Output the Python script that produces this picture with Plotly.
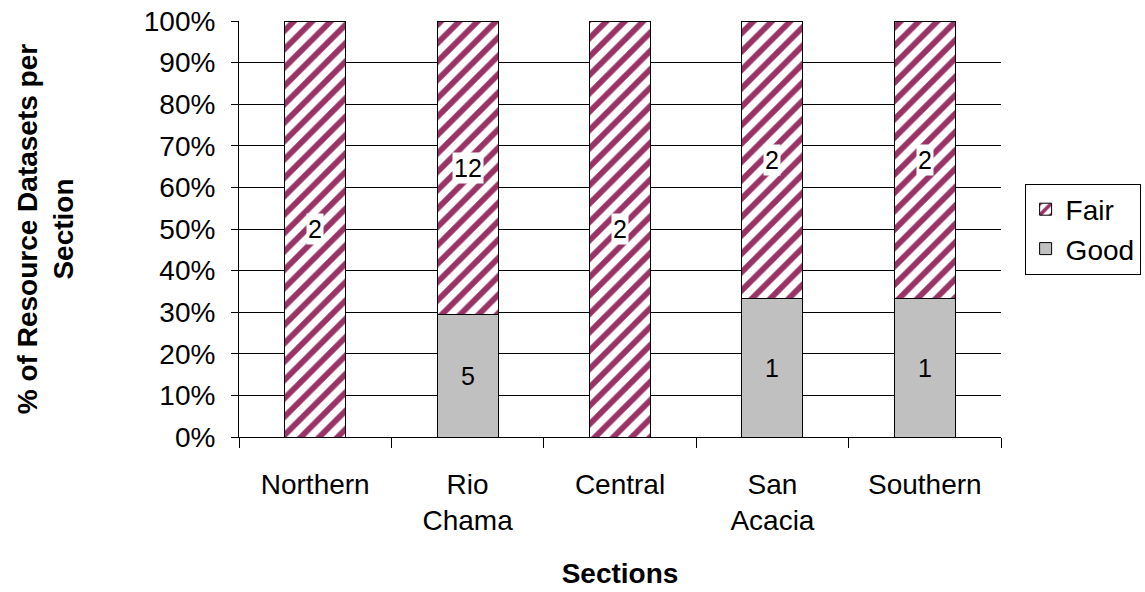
import plotly.graph_objects as go

sections = ["Northern", "Rio<br>Chama", "Central", "San<br>Acacia", "Southern"]
good_counts = [0, 5, 0, 1, 1]
fair_counts = [2, 12, 2, 2, 2]

totals = [g + f for g, f in zip(good_counts, fair_counts)]
good_pct = [100.0 * g / t for g, t in zip(good_counts, totals)]
fair_pct = [100.0 * f / t for f, t in zip(fair_counts, totals)]

FONT = "Liberation Sans, Arial, sans-serif"

fig = go.Figure()
fig.add_trace(go.Bar(
    x=sections, y=good_pct, name="Good", legendrank=2,
    marker=dict(color="#c0c0c0", line=dict(color="black", width=1)),
    hoverinfo="skip",
))
fig.add_trace(go.Bar(
    x=sections, y=fair_pct, name="Fair", legendrank=1,
    marker=dict(
        color="white",
        line=dict(color="black", width=1),
        pattern=dict(shape="/", fgcolor="#993366", bgcolor="white",
                     size=13, solidity=0.45, fillmode="replace"),
    ),
    hoverinfo="skip",
))

# count labels centred in each segment
annotations = []
for sec, g, f, gp, fp in zip(sections, good_counts, fair_counts, good_pct, fair_pct):
    if g > 0:
        annotations.append(dict(x=sec, y=gp / 2, text=str(g), showarrow=False,
                                font=dict(size=25, color="black", family=FONT)))
    if f > 0:
        annotations.append(dict(x=sec, y=gp + fp / 2, text=str(f), showarrow=False,
                                bgcolor="white", borderpad=1,
                                font=dict(size=25, color="black", family=FONT)))

fig.update_layout(
    barmode="stack",
    bargap=0.6,
    width=1145, height=592,
    margin=dict(l=239, r=144, t=21, b=155, autoexpand=False),
    paper_bgcolor="white", plot_bgcolor="white",
    font=dict(family=FONT, size=28, color="black"),
    showlegend=True,
    legend=dict(
        x=1.031, y=0.5, xanchor="left", yanchor="middle",
        traceorder="normal",
        bordercolor="black", borderwidth=1, bgcolor="white",
        font=dict(size=28, family=FONT),
        itemwidth=30,
    ),
    annotations=annotations,
)
fig.update_yaxes(
    range=[0, 100], dtick=10, ticksuffix="%",
    showgrid=True, gridcolor="black", gridwidth=1,
    showline=True, linecolor="black", linewidth=1,
    ticks="outside", ticklen=7, tickcolor="black",
    tickfont=dict(size=28), ticklabelstandoff=10,
    automargin=False,
    title=dict(text="<b>% of Resource Datasets per<br>Section</b>",
               font=dict(size=28, family=FONT), standoff=61),
    fixedrange=True,
)
fig.update_xaxes(
    showline=True, linecolor="black", linewidth=1,
    ticks="outside", ticklen=10, tickcolor="black", tickson="boundaries",
    tickfont=dict(size=28), ticklabelstandoff=22,
    automargin=False,
    title=dict(text="<b>Sections</b>", font=dict(size=28, family=FONT), standoff=28),
    fixedrange=True,
)

fig.write_html("out.html", config={"displayModeBar": False})
